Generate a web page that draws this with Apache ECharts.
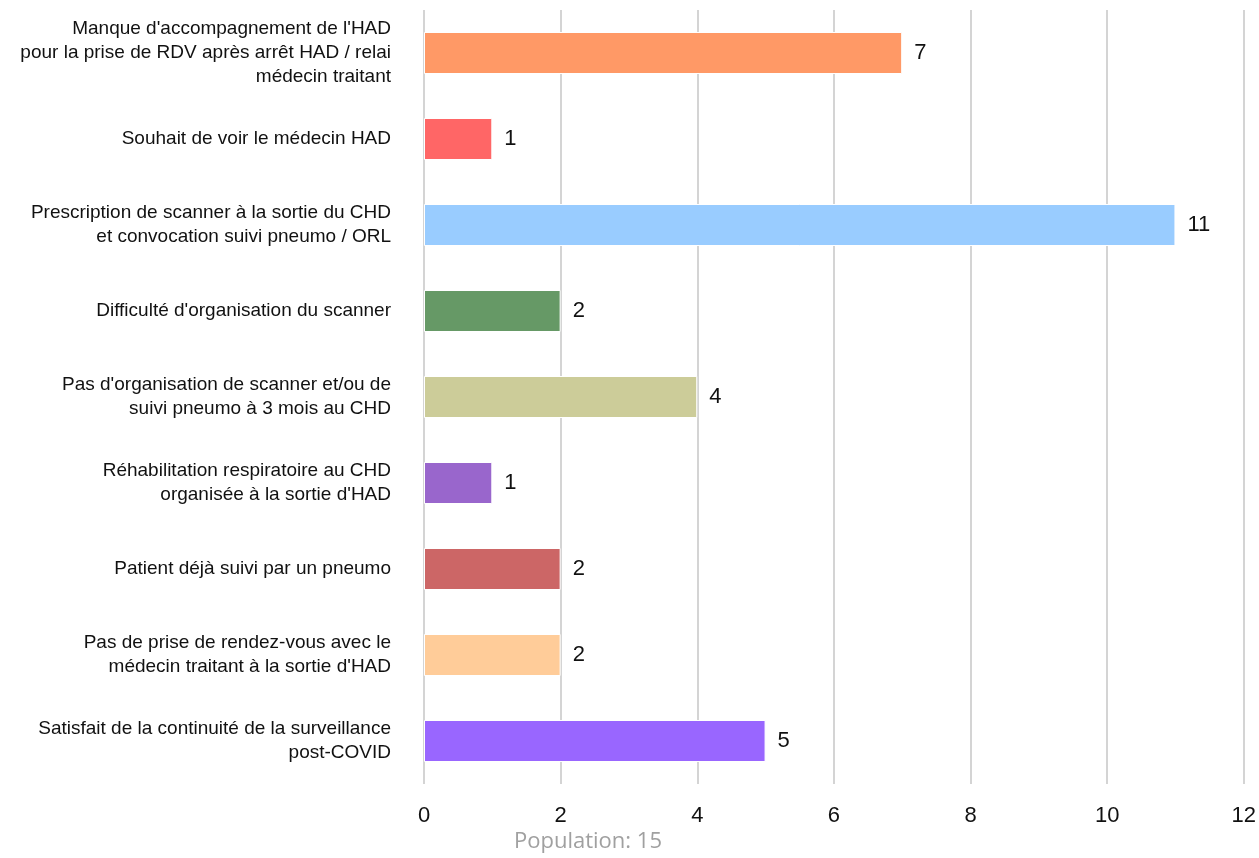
<!DOCTYPE html>
<html>
<head>
<meta charset="utf-8">
<script src="https://cdn.jsdelivr.net/npm/echarts@6/dist/echarts.min.js"></script>
<style>
  html, body { margin: 0; padding: 0; background: #fff; }
  #main { width: 1259px; height: 858px; }
</style>
</head>
<body>
<div id="main"></div>
<script>
// categories, top to bottom
var categories = [
    "Manque d'accompagnement de l'HAD\npour la prise de RDV après arrêt HAD / relai\nmédecin traitant",
    "Souhait de voir le médecin HAD",
    "Prescription de scanner à la sortie du CHD\net convocation suivi pneumo / ORL",
    "Difficulté d'organisation du scanner",
    "Pas d'organisation de scanner et/ou de\nsuivi pneumo à 3 mois au CHD",
    "Réhabilitation respiratoire au CHD\norganisée à la sortie d'HAD",
    "Patient déjà suivi par un pneumo",
    "Pas de prise de rendez-vous avec le\nmédecin traitant à la sortie d'HAD",
    "Satisfait de la continuité de la surveillance\npost-COVID"
];
var values = [7, 1, 11, 2, 4, 1, 2, 2, 5];
var barColors = ["#FF9966", "#FF6666", "#99CCFF", "#669966", "#CCCC99", "#9966CC", "#CC6666", "#FFCC99", "#9966FF"];
var populationText = "Population: 15";

var myChart = echarts.init(document.getElementById('main'));

var seriesData = values.map(function (v, i) {
    return { value: v, itemStyle: { color: barColors[i] } };
});

var option = {
    backgroundColor: '#ffffff',
    animation: false,
    title: {
        text: populationText,
        left: 509,
        top: 826,
        textStyle: {
            color: '#a0a0a0',
            fontSize: 22,
            fontWeight: 'normal',
            fontFamily: 'Open Sans'
        }
    },
    grid: {
        left: 424,
        right: 14,
        top: 10,
        bottom: 74,
        containLabel: false
    },
    xAxis: {
        type: 'value',
        min: 0,
        max: 12,
        interval: 2,
        axisLine: { show: false },
        axisTick: { show: false },
        splitLine: {
            show: true,
            lineStyle: { color: '#d4d4d4', width: 2 }
        },
        axisLabel: {
            color: '#111',
            fontSize: 22,
            fontFamily: 'Liberation Sans',
            margin: 21
        }
    },
    yAxis: {
        type: 'category',
        inverse: true,
        data: categories,
        axisLine: { show: false },
        axisTick: { show: false },
        axisLabel: {
            color: '#111',
            fontSize: 19,
            fontFamily: 'Liberation Sans',
            lineHeight: 24,
            margin: 33,
            align: 'right'
        }
    },
    series: [{
        type: 'bar',
        data: seriesData,
        barWidth: 42,
        itemStyle: {
            borderColor: '#ffffff',
            borderWidth: 1
        },
        label: {
            show: true,
            position: 'right',
            distance: 12,
            color: '#111',
            fontSize: 22,
            fontFamily: 'Liberation Sans'
        }
    }]
};

myChart.setOption(option);
</script>
</body>
</html>
